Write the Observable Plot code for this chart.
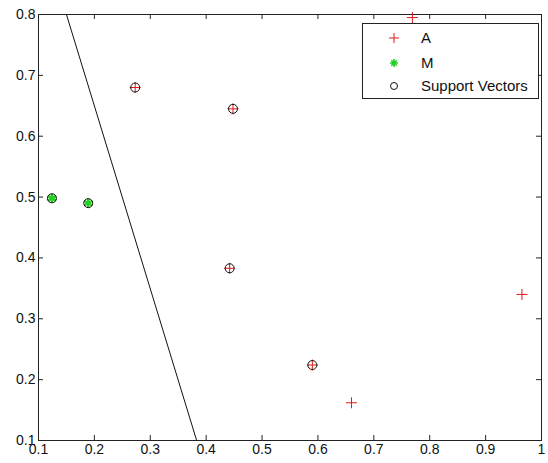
<!DOCTYPE html>
<html><head><meta charset="utf-8">
<script src="https://cdn.jsdelivr.net/npm/d3@7"></script>
<script src="https://cdn.jsdelivr.net/npm/@observablehq/plot@0.6"></script>
<style>
body{margin:0;background:#fff;}
#wrap{position:relative;width:548px;height:463px;font-family:"Liberation Sans",Arial,sans-serif;}
#legend{position:absolute;left:362px;top:23px;width:175px;height:74px;border:1px solid #222;background:#fff;font-size:15px;color:#111;}
#legend .row{position:absolute;left:0;height:20px;line-height:20px;width:100%;}
#legend svg{position:absolute;left:24px;top:3px;}
#legend span{position:absolute;left:58px;top:0;}
</style></head>
<body><div id="wrap"></div>
<script>
const aX = [0.769, 0.965, 0.660, 0.273, 0.448, 0.442, 0.590];
const aY = [0.795, 0.340, 0.162, 0.680, 0.645, 0.383, 0.224];
const mX = [0.124, 0.189];
const mY = [0.498, 0.490];
const svX = [0.273, 0.448, 0.442, 0.590, 0.124, 0.189];
const svY = [0.680, 0.645, 0.383, 0.224, 0.498, 0.490];
const lineX = [0.150, 0.383];
const lineY = [0.800, 0.100];
const xTicks = [0.1, 0.2, 0.3, 0.4, 0.5, 0.6, 0.7, 0.8, 0.9, 1];
const xTickLabels = ["0.1","0.2","0.3","0.4","0.5","0.6","0.7","0.8","0.9","1"];
const yTicks = [0.1, 0.2, 0.3, 0.4, 0.5, 0.6, 0.7, 0.8];
const yTickLabels = ["0.1","0.2","0.3","0.4","0.5","0.6","0.7","0.8"];
const legendNames = ["A", "M", "Support Vectors"];

const xLab = new Map(xTicks.map((t, i) => [t, xTickLabels[i]]));
const yLab = new Map(yTicks.map((t, i) => [t, yTickLabels[i]]));
const W = 548, H = 463, mL = 38, mR = 7, mT = 14, mB = 23;
const pw = W - mL - mR, ph = H - mT - mB, tk = 5;

const plusSym = {draw(ctx, size){const r = Math.sqrt(size/Math.PI); ctx.moveTo(-r,0); ctx.lineTo(r,0); ctx.moveTo(0,-r); ctx.lineTo(0,r);}};
const idx = a => a.map((_, i) => i);

const chart = Plot.plot({
  width: W, height: H,
  marginLeft: mL, marginRight: mR, marginTop: mT, marginBottom: mB,
  x: {domain: [0.1, 1]},
  y: {domain: [0.1, 0.8]},
  style: {fontFamily: '"Liberation Sans", Arial, sans-serif', fontSize: "14px", background: "white", overflow: "visible"},
  marks: [
    Plot.frame({stroke: "#222"}),
    Plot.ruleX(xTicks, {x: d => d, insetTop: ph - tk, stroke: "#222"}),
    Plot.ruleX(xTicks, {x: d => d, insetBottom: ph - tk, stroke: "#222"}),
    Plot.ruleY(yTicks, {y: d => d, insetRight: pw - tk, stroke: "#222"}),
    Plot.ruleY(yTicks, {y: d => d, insetLeft: pw - tk, stroke: "#222"}),
    Plot.axisX({ticks: xTicks, tickSize: 0, tickPadding: 4, label: null, fontSize: 14, tickFormat: d => xLab.get(d), fill: "#111"}),
    Plot.axisY({ticks: yTicks, tickSize: 0, tickPadding: 3, label: null, fontSize: 14, tickFormat: d => yLab.get(d), fill: "#111"}),
    Plot.line(idx(lineX), {x: i => lineX[i], y: i => lineY[i], stroke: "#111", strokeWidth: 1}),
    Plot.dot(idx(aX), {x: i => aX[i], y: i => aY[i], symbol: plusSym, r: 5.5, stroke: "#e01818", fill: "none", strokeWidth: 1}),
    Plot.dot(idx(mX), {x: i => mX[i], y: i => mY[i], symbol: "asterisk", r: 4.5, stroke: "#22d022", strokeWidth: 2.5}),
    Plot.dot(idx(svX), {x: i => svX[i], y: i => svY[i], r: 4.5, stroke: "#111", fill: "none", strokeWidth: 1})
  ]
});
const wrap = document.getElementById("wrap");
wrap.appendChild(chart);

const leg = document.createElement("div");
leg.id = "legend";
const icons = [
  '<svg width="14" height="14"><path d="M2,7H12M7,2V12" stroke="#e01818" stroke-width="1" fill="none"/></svg>',
  '<svg width="14" height="14"><path d="M3,7H11M7,3V11M4.2,4.2L9.8,9.8M9.8,4.2L4.2,9.8" stroke="#22d022" stroke-width="1.6" fill="none"/></svg>',
  '<svg width="14" height="14"><circle cx="7" cy="7" r="3.5" stroke="#111" stroke-width="1" fill="none"/></svg>'
];
const rowTops = [4, 29, 52];
legendNames.forEach((n, i) => {
  const r = document.createElement("div");
  r.className = "row";
  r.style.top = rowTops[i] + "px";
  r.innerHTML = icons[i] + "<span></span>";
  r.querySelector("span").textContent = n;
  leg.appendChild(r);
});
wrap.appendChild(leg);
</script>
</body></html>
